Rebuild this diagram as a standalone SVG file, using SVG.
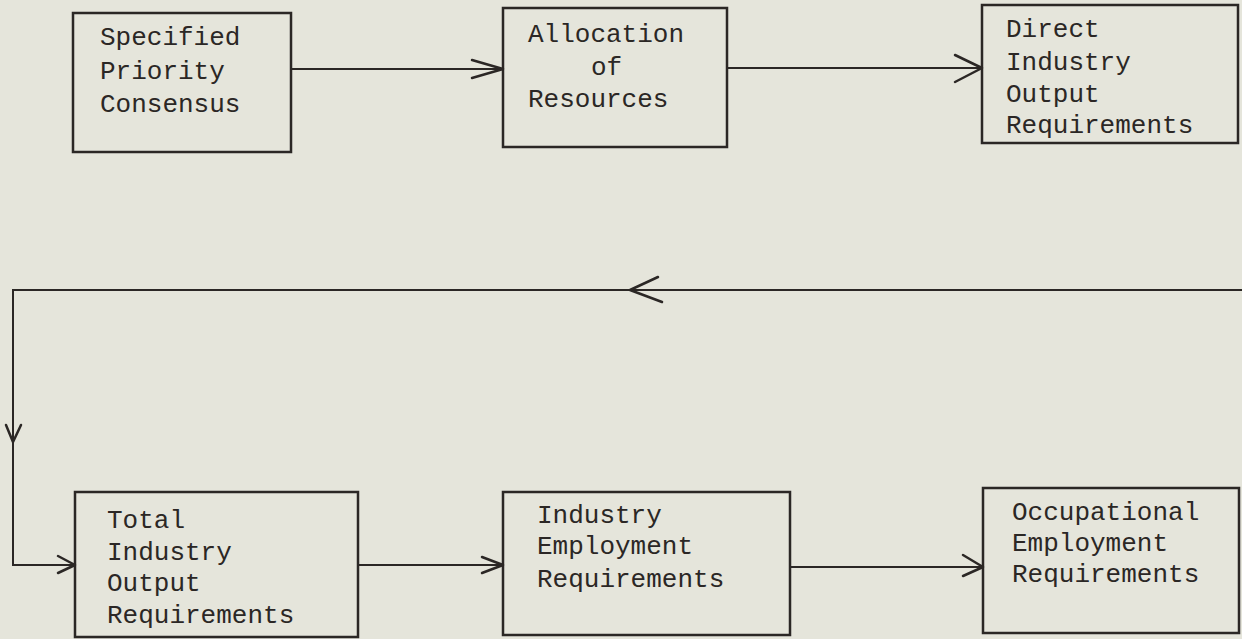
<svg xmlns="http://www.w3.org/2000/svg" width="1242" height="639" viewBox="0 0 1242 639">
<style>
.bg{fill:#e5e5db}
.box{fill:none;stroke:#2b2725;stroke-width:2.5}
.ln{fill:none;stroke:#2b2725;stroke-width:2}
.hd{fill:none;stroke:#2b2725;stroke-width:2.5;stroke-linecap:round;stroke-linejoin:round}
text{font-family:"Liberation Mono","DejaVu Sans Mono",monospace;font-size:26px;fill:#2b2725}
</style>
<rect class="bg" x="0" y="0" width="1242" height="639"/>
<g id="n1">
<rect class="box" x="73" y="13" width="218" height="139"/>
<text x="100" y="45">Specified</text>
<text x="100" y="79">Priority</text>
<text x="100" y="112">Consensus</text>
</g>
<g id="n2">
<rect class="box" x="503" y="8" width="224" height="139"/>
<text x="528" y="42">Allocation</text>
<text x="591" y="75">of</text>
<text x="528" y="107">Resources</text>
</g>
<g id="n3">
<rect class="box" x="982" y="5" width="256" height="138"/>
<text x="1006" y="37">Direct</text>
<text x="1006" y="70">Industry</text>
<text x="1006" y="102">Output</text>
<text x="1006" y="133">Requirements</text>
</g>
<g id="n4">
<rect class="box" x="75" y="492" width="283" height="145"/>
<text x="107" y="528">Total</text>
<text x="107" y="560">Industry</text>
<text x="107" y="591">Output</text>
<text x="107" y="623">Requirements</text>
</g>
<g id="n5">
<rect class="box" x="503" y="492" width="287" height="143"/>
<text x="537" y="523">Industry</text>
<text x="537" y="554">Employment</text>
<text x="537" y="587">Requirements</text>
</g>
<g id="n6">
<rect class="box" x="983" y="488" width="256" height="145"/>
<text x="1012" y="520">Occupational</text>
<text x="1012" y="551">Employment</text>
<text x="1012" y="582">Requirements</text>
</g>
<g id="connectors">
<path class="ln" d="M291 69 H503"/>
<path class="hd" d="M472 60 L503 69 L472 78"/>
<path class="ln" d="M727 68 H982"/>
<path class="hd" d="M955 55 L982 68 L955 82"/>
<path class="ln" d="M1242 290 H13 V565 H75"/>
<path class="hd" d="M658 277 L630 290 L662 302"/>
<path class="hd" d="M6 425 L13 442 L21 425"/>
<path class="hd" d="M58 556 L75 565 L58 573"/>
<path class="ln" d="M358 565 H503"/>
<path class="hd" d="M482 557 L503 565 L482 573"/>
<path class="ln" d="M790 567 H983"/>
<path class="hd" d="M963 555 L983 567 L963 576"/>
</g>
</svg>
